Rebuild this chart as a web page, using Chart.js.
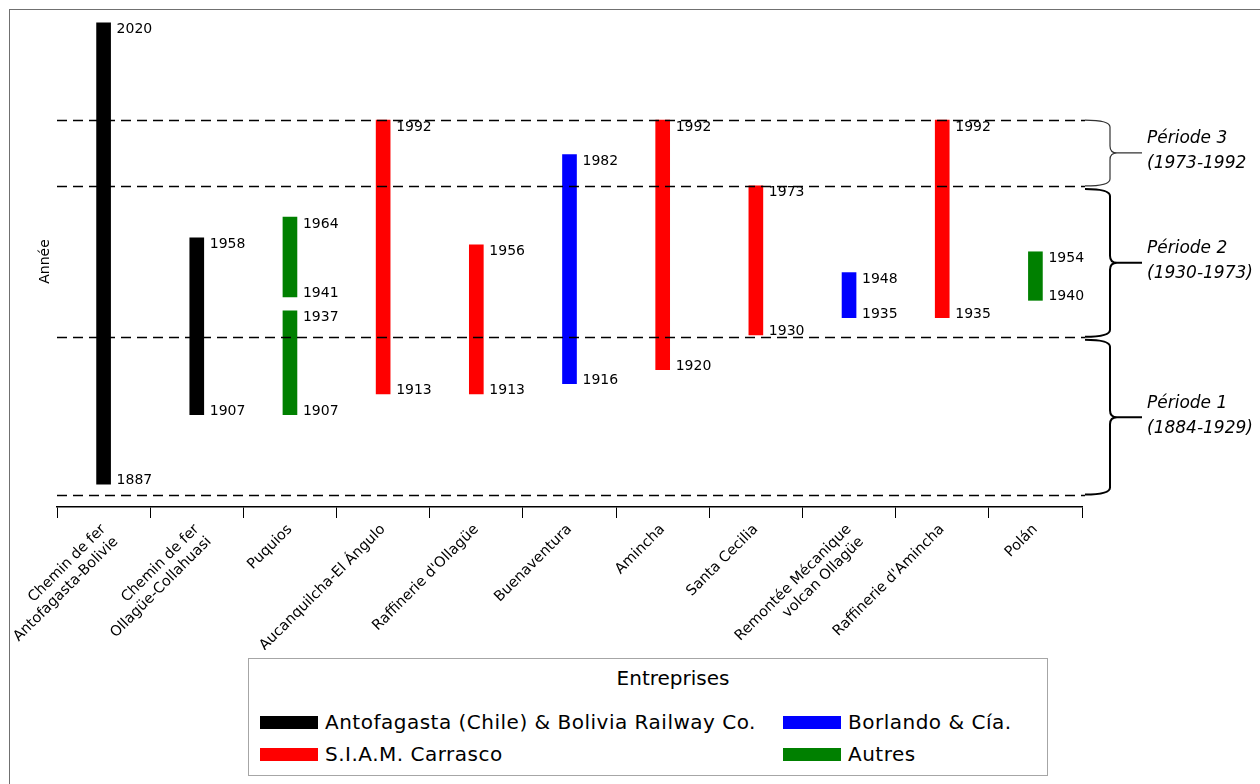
<!DOCTYPE html>
<html lang="fr">
<head>
  <meta charset="UTF-8">
  <title>Entreprises : périodes d'activité</title>
  <script src="https://cdn.jsdelivr.net/npm/chart.js"></script>
  <style>
    body {
      margin: 0;
      background-color: #FFFFFF;
      font-family: "DejaVu Sans", Verdana, sans-serif;
      color: #000;
    }

    #page {
      position: relative;
      width: 1260px;
      height: 784px;
      overflow: hidden;
    }

    #cadre {
      position: absolute;
      left: 9px;
      top: 9px;
      width: 1300px;
      height: 800px;
      border-top: 1px solid #707070;
      border-left: 1px solid #707070;
    }

    #zone {
      position: absolute;
      left: 0;
      top: 0;
    }

    #legende {
      position: absolute;
      left: 248px;
      top: 658px;
      width: 800px;
      height: 118px;
      box-sizing: border-box;
      border: 1px solid #a6a6a6;
      background-color: #FFFFFF;
    }

    #legende .titre {
      position: absolute;
      left: 0;
      top: 7px;
      width: 848px;
      text-align: center;
      font-size: 20px;
    }

    #legende .items {
      position: absolute;
      left: 11px;
      top: 47px;
      display: grid;
      grid-auto-flow: column;
      grid-template-rows: 32px 32px;
      grid-template-columns: 523px auto;
    }

    #legende .item {
      display: flex;
      align-items: center;
      font-size: 20px;
      letter-spacing: 0.5px;
      white-space: nowrap;
    }

    #legende .case {
      width: 58px;
      height: 13px;
      margin-right: 7px;
    }
  </style>
</head>
<body>

<div id="page">
  <div id="cadre"></div>
  <canvas id="zone" width="1260" height="650"></canvas>
  <div id="legende">
    <div class="titre">Entreprises</div>
    <div class="items" id="items"></div>
  </div>
</div>

<script>
  // ---- données ----
  const categories = [
    ['Chemin de fer', 'Antofagasta-Bolivie'],
    ['Chemin de fer', 'Ollagüe-Collahuasi'],
    'Puquios',
    'Aucanquilcha-El Ángulo',
    "Raffinerie d'Ollagüe",
    'Buenaventura',
    'Amincha',
    'Santa Cecilia',
    ['Remontée Mécanique', 'volcan Ollagüe'],
    "Raffinerie d'Amincha",
    'Polán'
  ];
  const startYears = [1887, 1907, 1907, 1913, 1913, 1916, 1920, 1930, 1935, 1935, 1940];
  const endYears   = [2020, 1958, 1937, 1992, 1956, 1982, 1992, 1973, 1948, 1992, 1954];
  const companyOf  = [0, 0, 3, 1, 1, 2, 1, 1, 2, 1, 3];

  // deuxième activité à Puquios
  const extraStart = [null, null, 1941, null, null, null, null, null, null, null, null];
  const extraEnd   = [null, null, 1964, null, null, null, null, null, null, null, null];
  const extraCompany = 3;

  const companies = [
    'Antofagasta (Chile) & Bolivia Railway Co.',
    'S.I.A.M. Carrasco',
    'Borlando & Cía.',
    'Autres'
  ];
  const companyColors = ['#000000', '#FF0000', '#0000FF', '#008000'];

  const separatorYears = [1884, 1929.5, 1973, 1992];
  const periodBounds = [[1884, 1929.5], [1929.5, 1973], [1973, 1992]];
  const periodNames = ['Période 1', 'Période 2', 'Période 3'];
  const periodSpans = ['(1884-1929)', '(1930-1973)', '(1973-1992'];

  const FONT = '"DejaVu Sans", Verdana, sans-serif';

  // ---- jeux de données ----
  const datasets = companies.map((nom, c) => ({
    label: nom,
    data: categories.map((_, i) => companyOf[i] === c ? [startYears[i], endYears[i]] : null),
    backgroundColor: companyColors[c],
    borderWidth: 0,
    barThickness: 14,
    grouped: false
  }));
  datasets.push({
    label: companies[extraCompany],
    data: extraStart.map((s, i) => s === null ? null : [s, extraEnd[i]]),
    backgroundColor: companyColors[extraCompany],
    borderWidth: 0,
    barThickness: 14,
    grouped: false
  });

  // étiquettes, pointillés et accolades des périodes
  const annotations = {
    id: 'annotations',
    afterDatasetsDraw(chart) {
      const ctx = chart.ctx;
      const area = chart.chartArea;
      const y = chart.scales.y;
      ctx.save();

      ctx.strokeStyle = '#000';
      ctx.lineWidth = 1.5;
      ctx.setLineDash([10, 6]);
      separatorYears.forEach(an => {
        const py = Math.round(y.getPixelForValue(an)) + 0.5;
        ctx.beginPath();
        ctx.moveTo(area.left, py);
        ctx.lineTo(area.right + 3, py);
        ctx.stroke();
      });
      ctx.setLineDash([]);

      ctx.font = '14px ' + FONT;
      ctx.fillStyle = '#000';
      ctx.textAlign = 'left';
      ctx.textBaseline = 'alphabetic';
      chart.data.datasets.forEach((ds, i) => {
        const meta = chart.getDatasetMeta(i);
        meta.data.forEach((bar, j) => {
          const v = ds.data[j];
          if (!v) return;
          const haut = Math.min(bar.y, bar.base);
          const bas = Math.max(bar.y, bar.base);
          const x = bar.x + bar.width / 2 + 6;
          ctx.fillText(String(Math.max(v[0], v[1])), x, haut + 10.5);
          ctx.fillText(String(Math.min(v[0], v[1])), x, bas);
        });
      });

      const x0 = area.right + 3, xv = area.right + 28, xt = area.right + 60, r = 7;
      periodBounds.forEach((b, i) => {
        let yTop = y.getPixelForValue(b[1]);
        const yBot = y.getPixelForValue(b[0]);
        if (i < 2) yTop += 3;
        const yMid = (yTop + yBot) / 2;
        ctx.lineWidth = i === 2 ? 1.2 : 2;
        ctx.strokeStyle = i === 2 ? '#333' : '#000';
        ctx.beginPath();
        ctx.moveTo(x0, yTop);
        ctx.quadraticCurveTo(xv, yTop, xv, yTop + r);
        ctx.lineTo(xv, yMid - r);
        ctx.quadraticCurveTo(xv, yMid, xv + r, yMid);
        ctx.lineTo(xt, yMid);
        ctx.moveTo(xv + r, yMid);
        ctx.quadraticCurveTo(xv, yMid, xv, yMid + r);
        ctx.lineTo(xv, yBot - r);
        ctx.quadraticCurveTo(xv, yBot, x0, yBot);
        ctx.stroke();

        ctx.font = 'italic 17px ' + FONT;
        ctx.textBaseline = 'middle';
        ctx.fillText(periodNames[i], xt + 5, yMid - 14);
        ctx.fillText(periodSpans[i], xt + 5, yMid + 11);
      });

      ctx.restore();
    }
  };

  const chart = new Chart(document.getElementById('zone'), {
    type: 'bar',
    data: { labels: categories, datasets: datasets },
    plugins: [annotations],
    options: {
      responsive: false,
      animation: false,
      devicePixelRatio: 1,
      layout: { padding: { left: 34, right: 178, top: 16, bottom: 0 } },
      plugins: {
        legend: { display: false },
        tooltip: { enabled: false }
      },
      scales: {
        x: {
          grid: { drawOnChartArea: false, drawTicks: true, tickLength: 11, color: '#000', offset: true },
          border: { display: true, color: '#000', width: 1.5 },
          ticks: {
            autoSkip: false,
            minRotation: 45,
            maxRotation: 45,
            padding: 3,
            color: '#000',
            font: { family: FONT, size: 14.5 }
          },
          afterFit(scale) {
            scale.height = 143;
            scale.paddingLeft = 0;
            scale.paddingRight = 0;
          }
        },
        y: {
          min: 1880.4,
          max: 2022,
          ticks: { display: false },
          grid: { display: false },
          border: { display: false },
          title: {
            display: true,
            text: 'Année',
            color: '#000',
            font: { family: FONT, size: 14 },
            padding: { top: 3, bottom: 0 }
          },
          afterFit(scale) {
            scale.width = 23;
          }
        }
      }
    }
  });

  // légende
  const items = document.getElementById('items');
  companies.forEach((nom, c) => {
    const div = document.createElement('div');
    div.className = 'item';
    const cas = document.createElement('span');
    cas.className = 'case';
    cas.style.backgroundColor = companyColors[c];
    div.appendChild(cas);
    div.appendChild(document.createTextNode(nom));
    items.appendChild(div);
  });
</script>

</body>
</html>
